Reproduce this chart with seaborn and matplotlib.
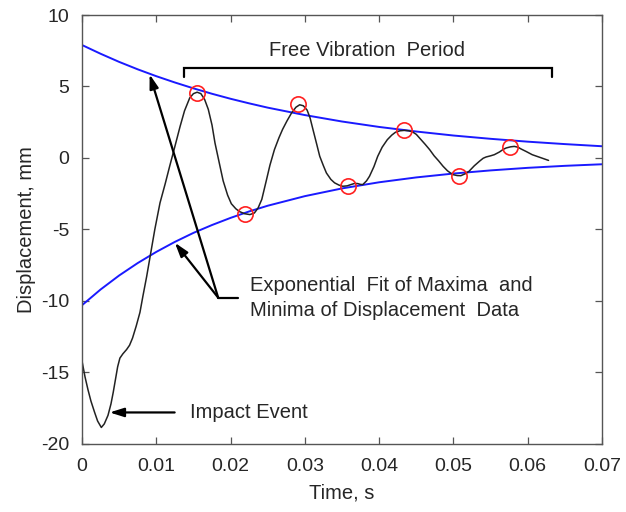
import numpy as np
import pandas as pd
import matplotlib
matplotlib.use("Agg")
import matplotlib.pyplot as plt
import seaborn as sns

# ---- data ----
time_s = [0.0000, 0.0004, 0.0008, 0.0012, 0.0017, 0.0021, 0.0026, 0.0030, 0.0035,
          0.0039, 0.0042, 0.0045, 0.0048, 0.0051, 0.0055, 0.0060, 0.0064, 0.0068,
          0.0073, 0.0078, 0.0082, 0.0087, 0.0091, 0.0098, 0.0105, 0.0112, 0.0118,
          0.0125, 0.0132, 0.0138, 0.0145, 0.0150, 0.0155, 0.0160, 0.0165, 0.0170,
          0.0175, 0.0179, 0.0185, 0.0190, 0.0196, 0.0201, 0.0207, 0.0212, 0.0219,
          0.0226, 0.0232, 0.0237, 0.0242, 0.0248, 0.0253, 0.0259, 0.0265, 0.0270,
          0.0276, 0.0282, 0.0288, 0.0293, 0.0298, 0.0303, 0.0307, 0.0311, 0.0316,
          0.0320, 0.0325, 0.0329, 0.0335, 0.0340, 0.0346, 0.0351, 0.0357, 0.0362,
          0.0367, 0.0371, 0.0375, 0.0378, 0.0383, 0.0387, 0.0393, 0.0398, 0.0404,
          0.0411, 0.0417, 0.0422, 0.0428, 0.0434, 0.0440, 0.0445, 0.0450, 0.0456,
          0.0462, 0.0468, 0.0474, 0.0480, 0.0486, 0.0492, 0.0499, 0.0505, 0.0510,
          0.0516, 0.0521, 0.0528, 0.0535, 0.0540, 0.0544, 0.0550, 0.0555, 0.0562,
          0.0567, 0.0571, 0.0577, 0.0582, 0.0587, 0.0591, 0.0598, 0.0606, 0.0617,
          0.0628]
displacement_mm = [-14.2, -15.3, -16.2, -17.0, -17.8, -18.4, -18.85, -18.6, -18.0,
                   -17.2, -16.4, -15.5, -14.6, -14.0, -13.7, -13.4, -13.1, -12.6,
                   -11.75, -10.8, -9.66, -8.3, -7.1, -5.0, -3.14, -1.8, -0.58,
                   0.8, 2.2, 3.3, 4.2, 4.5, 4.6, 4.5, 4.1, 3.4,
                   2.3, 1.05, -0.4, -1.6, -2.6, -3.2, -3.55, -3.75, -3.9,
                   -3.96, -3.85, -3.5, -2.9, -1.6, -0.5, 0.58, 1.4, 2.0,
                   2.6, 3.14, 3.55, 3.72, 3.65, 3.35, 2.8, 1.97, 0.95,
                   0.12, -0.55, -1.05, -1.5, -1.74, -1.9, -1.98, -1.95, -1.86,
                   -1.78, -1.79, -1.85, -1.86, -1.6, -1.28, -0.6, 0.11, 0.75,
                   1.28, 1.6, 1.8, 1.9, 1.93, 1.9, 1.82, 1.65, 1.3,
                   0.95, 0.58, 0.15, -0.2, -0.58, -0.9, -1.16, -1.23, -1.24,
                   -1.1, -0.93, -0.55, -0.23, -0.02, 0.07, 0.15, 0.23, 0.42,
                   0.6, 0.70, 0.78, 0.81, 0.75, 0.63, 0.45, 0.23, 0.03,
                   -0.17]

peak_time = [0.01546, 0.0220, 0.0291, 0.0358, 0.0433, 0.0507, 0.0576]
peak_disp = [4.54, -3.89, 3.79, -1.93, 1.93, -1.24, 0.77]

fit_time = [0.0000, 0.0025, 0.0050, 0.0075, 0.0100, 0.0125, 0.0150, 0.0175,
            0.0200, 0.0225, 0.0250, 0.0300, 0.0350, 0.0400, 0.0450, 0.0500,
            0.0550, 0.0600, 0.0650, 0.0700]
fit_upper = [7.90, 7.29, 6.72, 6.20, 5.72, 5.28, 4.87, 4.49,
             4.14, 3.82, 3.52, 3.00, 2.55, 2.17, 1.85, 1.57,
             1.34, 1.14, 0.97, 0.82]
fit_lower = [-10.30, -9.20, -8.22, -7.35, -6.57, -5.87, -5.24, -4.69,
             -4.19, -3.74, -3.34, -2.67, -2.13, -1.70, -1.36, -1.09,
             -0.87, -0.69, -0.55, -0.44]

x_ticks = [0, 0.01, 0.02, 0.03, 0.04, 0.05, 0.06, 0.07]
x_tick_labels = ["0", "0.01", "0.02", "0.03", "0.04", "0.05", "0.06", "0.07"]
y_ticks = [-20, -15, -10, -5, 0, 5, 10]

# ---- styling ----
sns.set_theme(style="white")
plt.rcParams["font.family"] = ["Liberation Sans", "DejaVu Sans"]
plt.rcParams["axes.unicode_minus"] = False

fig = plt.figure(figsize=(6.26, 5.12), dpi=100)
ax = fig.add_axes([0.131, 0.133, 0.8307, 0.8377])

df_disp = pd.DataFrame({"t": time_s, "d": displacement_mm})
df_fit = pd.DataFrame({"t": fit_time, "up": fit_upper, "lo": fit_lower})
df_peak = pd.DataFrame({"t": peak_time, "d": peak_disp})

sns.lineplot(data=df_fit, x="t", y="up", ax=ax, color="#1a1aff", lw=1.4,
             estimator=None, sort=False)
sns.lineplot(data=df_fit, x="t", y="lo", ax=ax, color="#1a1aff", lw=1.4,
             estimator=None, sort=False)
sns.lineplot(data=df_disp, x="t", y="d", ax=ax, color="#222222", lw=1.1,
             estimator=None, sort=False, solid_joinstyle="round")
ax.plot(df_peak["t"], df_peak["d"], linestyle="none", marker="o", ms=11,
        mfc="none", mec="#ff2020", mew=1.2)

ax.set_xlim(0, 0.07)
ax.set_ylim(-20, 10)
ax.set_xticks(x_ticks)
ax.set_xticklabels(x_tick_labels)
ax.set_yticks(y_ticks)
ax.set_xlabel("Time, s", fontsize=14.5, color="#262626", labelpad=6)
ax.set_ylabel("Displacement, mm", fontsize=14.5, color="#262626", labelpad=4)
ax.tick_params(direction="in", length=5, width=0.9, colors="#555555",
               labelcolor="#262626", labelsize=14, top=True, right=True,
               bottom=True, left=True)
ax.tick_params(axis="x", pad=10)
ax.tick_params(axis="y", pad=9)
for s in ax.spines.values():
    s.set_visible(True)
    s.set_color("#555555")
    s.set_linewidth(1.0)

# ---- annotations ----
ax.plot([0.0137, 0.0137, 0.0633, 0.0633], [5.67, 6.28, 6.28, 5.67],
        color="black", lw=1.6, solid_joinstyle="miter")
ax.text(0.0384, 7.5, "Free Vibration  Period", ha="center", va="center",
        fontsize=14.5, color="#262626")

arrow_kw = dict(arrowstyle="-|>,head_length=0.7,head_width=0.22",
                color="black", lw=1.6, shrinkA=0, shrinkB=0)
ax.annotate("", xy=(0.0091, 5.85), xytext=(0.01833, -9.77),
            arrowprops=arrow_kw)
ax.annotate("", xy=(0.0125, -5.93), xytext=(0.01833, -9.77),
            arrowprops=arrow_kw)
ax.plot([0.01833, 0.02104], [-9.77, -9.77], color="black", lw=1.6)
ax.text(0.02261, -9.8, "Exponential  Fit of Maxima  and\nMinima of Displacement  Data",
        ha="left", va="center", fontsize=14.5, color="#262626", linespacing=1.45)

ax.annotate("", xy=(0.00372, -17.8), xytext=(0.01247, -17.8),
            arrowprops=arrow_kw)
ax.text(0.01454, -17.8, "Impact Event", ha="left", va="center",
        fontsize=14.5, color="#262626")

fig.savefig("out.png", dpi=100)
